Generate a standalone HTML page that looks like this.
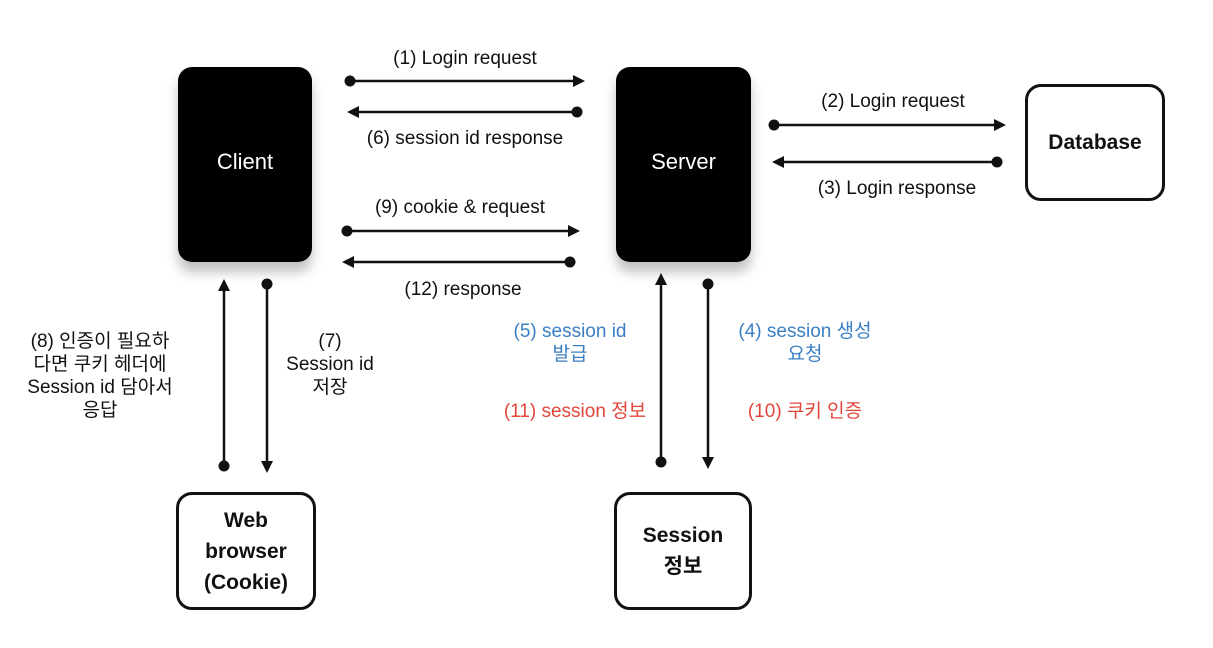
<!DOCTYPE html>
<html><head><meta charset="utf-8"><style>
body{margin:0;background:#fff;width:1213px;height:648px;overflow:hidden;position:relative;font-family:"Liberation Sans","Noto Sans CJK KR",sans-serif}
.blk{position:absolute;background:#000;border-radius:14px;color:#fff;font-size:22px;display:flex;align-items:center;justify-content:center;box-shadow:0 10px 12px rgba(0,0,0,.25)}
.blk span{position:relative;top:-3px}
.wb{position:absolute;border:3px solid #111;border-radius:16px;display:flex;align-items:center;justify-content:center;text-align:center;font-weight:bold;font-size:21px;line-height:31px;color:#111;box-sizing:border-box}
.t{position:absolute;font-size:19px;color:#111;white-space:nowrap;text-align:center;line-height:23px}
.b{color:#3a7fc4}.r{color:#e2463a}
svg{position:absolute;left:0;top:0}
</style></head><body>
<div class="blk" style="left:178px;top:67px;width:134px;height:195px"><span>Client</span></div>
<div class="blk" style="left:616px;top:67px;width:135px;height:195px"><span>Server</span></div>
<div class="wb" style="left:1025px;top:84px;width:140px;height:117px">Database</div>
<div class="wb" style="left:176px;top:492px;width:140px;height:118px">Web<br>browser<br>(Cookie)</div>
<div class="wb" style="left:614px;top:492px;width:138px;height:118px">Session<br>정보</div>
<svg width="1213" height="648" stroke="#111" stroke-width="2.5" fill="#111">
<defs><marker id="a" markerWidth="12" markerHeight="12" refX="9" refY="6" orient="auto" markerUnits="userSpaceOnUse"><path d="M0,0L12,6L0,12z" stroke="none"/></marker></defs>
<g marker-end="url(#a)">
<line x1="350" y1="81" x2="582" y2="81"/><line x1="577" y1="112" x2="350" y2="112"/>
<line x1="347" y1="231" x2="577" y2="231"/><line x1="570" y1="262" x2="345" y2="262"/>
<line x1="774" y1="125" x2="1003" y2="125"/><line x1="997" y1="162" x2="775" y2="162"/>
<line x1="224" y1="466" x2="224" y2="282"/><line x1="267" y1="284" x2="267" y2="470"/>
<line x1="661" y1="462" x2="661" y2="276"/><line x1="708" y1="284" x2="708" y2="466"/>
</g>
<g stroke="none"><circle cx="350" cy="81" r="5.5"/><circle cx="577" cy="112" r="5.5"/><circle cx="347" cy="231" r="5.5"/><circle cx="570" cy="262" r="5.5"/><circle cx="774" cy="125" r="5.5"/><circle cx="997" cy="162" r="5.5"/><circle cx="224" cy="466" r="5.5"/><circle cx="267" cy="284" r="5.5"/><circle cx="661" cy="462" r="5.5"/><circle cx="708" cy="284" r="5.5"/></g>
</svg>
<div class="t" style="left:365px;top:47px;width:200px">(1) Login request</div>
<div class="t" style="left:355px;top:127px;width:220px">(6) session id response</div>
<div class="t" style="left:350px;top:196px;width:220px">(9) cookie &amp; request</div>
<div class="t" style="left:383px;top:278px;width:160px">(12) response</div>
<div class="t" style="left:793px;top:90px;width:200px">(2) Login request</div>
<div class="t" style="left:797px;top:177px;width:200px">(3) Login response</div>
<div class="t" style="left:20px;top:330px;width:160px">(8) 인증이 필요하<br>다면 쿠키 헤더에<br>Session id 담아서<br>응답</div>
<div class="t" style="left:270px;top:330px;width:120px">(7)<br>Session id<br>저장</div>
<div class="t b" style="left:490px;top:320px;width:160px">(5) session id<br>발급</div>
<div class="t b" style="left:715px;top:320px;width:180px">(4) session 생성<br>요청</div>
<div class="t r" style="left:475px;top:400px;width:200px">(11) session 정보</div>
<div class="t r" style="left:715px;top:400px;width:180px">(10) 쿠키 인증</div>
</body></html>
